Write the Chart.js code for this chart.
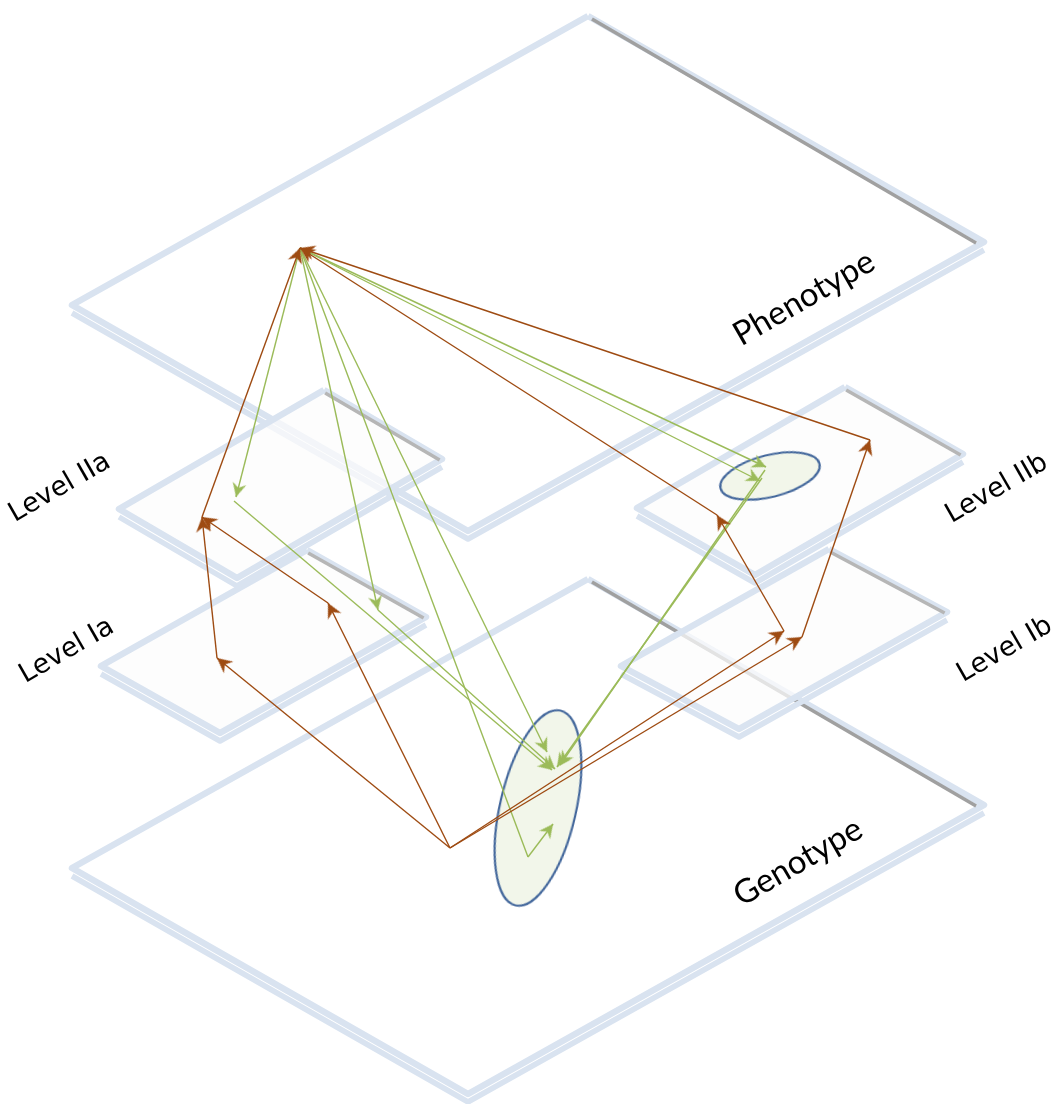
<!DOCTYPE html>
<html>
<head>
<meta charset="utf-8">
<script src="https://cdn.jsdelivr.net/npm/chart.js@4.4.1/dist/chart.umd.min.js"></script>
<style>
  html, body { margin: 0; padding: 0; background: #fff; }
  #wrap { width: 1061px; height: 1104px; position: relative; }
</style>
</head>
<body>
<div id="wrap"><canvas id="layers"></canvas></div>
<script>
// plane corners in picture units: top, right, bottom, left
const planeNames = ['Genotype', 'Phenotype', 'Level Ia', 'Level IIa', 'Level Ib', 'Level IIb']
const planeTop = [[588, 579], [588, 16], [307, 550], [324, 390], [829, 549], [845, 387]]
const planeRight = [[984, 805], [984, 242], [426, 617], [442, 459], [947, 612], [963, 454]]
const planeBottom = [[468, 1094], [468, 531], [220, 733], [237, 578], [739, 729], [755, 575]]
const planeLeft = [[72, 868], [72, 305], [101, 666], [119, 509], [621, 666], [637, 508]]

// brown arrows (head at the "to" end)
const brownFrom = [[450, 848], [450, 848], [450, 848], [450, 848], [217, 658], [328, 603], [202, 517], [784, 631], [802, 637], [717, 515], [870, 440]]
const brownTo = [[217, 658], [328, 603], [784, 631], [802, 637], [202, 517], [202, 517], [300, 248], [717, 515], [870, 440], [300, 248], [300, 248]]

// green arrows
const greenFrom = [[300, 248], [300, 248], [300, 248], [300, 248], [300, 248], [300, 248], [528, 857], [234, 501], [378, 610], [765, 470], [762, 478]]
const greenTo = [[236, 497], [378, 610], [547, 752], [766, 467], [760, 481], [528, 857], [553, 824], [552, 770], [555, 769], [560, 765], [557, 767]]
const greenHead = [true, true, true, true, true, false, true, true, true, true, true]

// clusters
const ellipseCenter = [[538, 808], [770, 476]]
const ellipseHalfAxes = [[38, 100], [51, 21]]
const ellipseTilt = [13, -14]

const labelText = ['Phenotype', 'Genotype', 'Level IIa', 'Level Ia', 'Level IIb', 'Level Ib']
const labelAt = [[804, 298], [798, 862], [60, 488], [67, 651], [997, 489], [1005, 650]]

const RIM = '#d9e3f0'
const BROWN = '#9e4b12'
const GREEN = '#9bbb59'

const toPts = pts => pts.map(([x, y]) => ({ x, y }))

const arrowSprite = (color, len, half) => {
  const s = 2 * len + 4
  const c = document.createElement('canvas')
  c.width = s
  c.height = s
  const g = c.getContext('2d')
  const m = s / 2
  g.fillStyle = color
  g.beginPath()
  g.moveTo(m, m)
  g.lineTo(m + half, m + len)
  g.lineTo(m, m + len * 0.68)
  g.lineTo(m - half, m + len)
  g.closePath()
  g.fill()
  return c
}

const ellipseSprite = (a, b) => {
  const c = document.createElement('canvas')
  c.width = 2 * a + 6
  c.height = 2 * b + 6
  const g = c.getContext('2d')
  g.beginPath()
  g.ellipse(c.width / 2, c.height / 2, a, b, 0, 0, Math.PI * 2)
  g.fillStyle = '#f2f6ea'
  g.fill()
  g.lineWidth = 2.2
  g.strokeStyle = '#44689c'
  g.stroke()
  return c
}

const brownHead = arrowSprite(BROWN, 15, 7.5)
const greenHeadImg = arrowSprite(GREEN, 14, 7)

// rotation of the head from the segment direction, in pixels
const headRotation = c => {
  const d = c.dataset.data
  if (c.dataIndex === 0) return 0
  const sx = c.chart.scales.x
  const sy = c.chart.scales.y
  const dx = sx.getPixelForValue(d[1].x) - sx.getPixelForValue(d[0].x)
  const dy = sy.getPixelForValue(d[1].y) - sy.getPixelForValue(d[0].y)
  return Math.atan2(dx, -dy) * 180 / Math.PI
}

const datasets = []

planeNames.forEach((name, i) => {
  const corners = [planeTop[i], planeRight[i], planeBottom[i], planeLeft[i]]
  const isLevel = i >= 2
  // slab edge below the two front sides
  datasets.push({
    label: name + ' edge',
    data: toPts([planeLeft[i], planeBottom[i], planeRight[i]].map(([x, y]) => [x, y + 8])),
    borderColor: RIM,
    borderWidth: 5.5
  })
  datasets.push({
    label: name,
    data: toPts([...corners, corners[0]]),
    borderColor: RIM,
    borderWidth: 6.5,
    fill: isLevel ? 'shape' : false,
    backgroundColor: 'rgba(252,252,252,0.72)'
  })
  // grey back edge
  const [tx, ty] = planeTop[i]
  const [rx, ry] = planeRight[i]
  datasets.push({
    label: name + ' back',
    data: toPts([[tx + 0.01 * (rx - tx), ty + 3], [rx - 0.02 * (rx - tx), ry + 1]]),
    borderColor: isLevel ? '#b6b6b6' : '#a0a0a0',
    borderWidth: 3.5,
    borderCapStyle: 'butt'
  })
})

ellipseCenter.forEach(([x, y], i) => {
  datasets.push({
    label: 'cluster ' + i,
    data: [{ x, y }],
    showLine: false,
    pointStyle: ellipseSprite(ellipseHalfAxes[i][0], ellipseHalfAxes[i][1]),
    pointRadius: 10,
    rotation: ellipseTilt[i]
  })
})

const arrowDataset = (from, to, head, color, img) => ({
  data: toPts([from, to]),
  borderColor: color,
  borderWidth: 1.4,
  pointStyle: img,
  pointRadius: c => (c.dataIndex === 1 && head ? 6 : 0),
  rotation: headRotation
})

greenFrom.forEach((f, i) => datasets.push(arrowDataset(f, greenTo[i], greenHead[i], GREEN, greenHeadImg)))
brownFrom.forEach((f, i) => datasets.push(arrowDataset(f, brownTo[i], true, BROWN, brownHead)))

datasets.forEach((d, i) => {
  d.order = datasets.length - i
  if (d.showLine === undefined) d.showLine = true
  if (d.pointRadius === undefined) d.pointRadius = 0
  d.tension = 0
  d.borderJoinStyle = 'round'
})

const layerLabels = {
  id: 'layerLabels',
  afterDatasetsDraw(chart) {
    const { ctx, scales } = chart
    labelText.forEach((t, i) => {
      const x = scales.x.getPixelForValue(labelAt[i][0])
      const y = scales.y.getPixelForValue(labelAt[i][1])
      ctx.save()
      ctx.translate(x, y)
      ctx.rotate(-30 * Math.PI / 180)
      ctx.fillStyle = '#000'
      ctx.font = t.startsWith('Level') ? '27px "DejaVu Sans"' : '33px Lato'
      ctx.textAlign = 'center'
      ctx.textBaseline = 'middle'
      ctx.fillText(t, 0, 0)
      ctx.restore()
    })
  }
}

new Chart(document.getElementById('layers'), {
  type: 'scatter',
  data: { datasets },
  options: {
    responsive: true,
    maintainAspectRatio: false,
    animation: false,
    events: [],
    layout: { padding: 0, autoPadding: false },
    scales: {
      x: { type: 'linear', min: 0, max: 1061, display: false },
      y: { type: 'linear', min: 0, max: 1104, reverse: true, display: false }
    },
    plugins: {
      legend: { display: false },
      tooltip: { enabled: false }
    }
  },
  plugins: [layerLabels]
})
</script>
</body>
</html>
